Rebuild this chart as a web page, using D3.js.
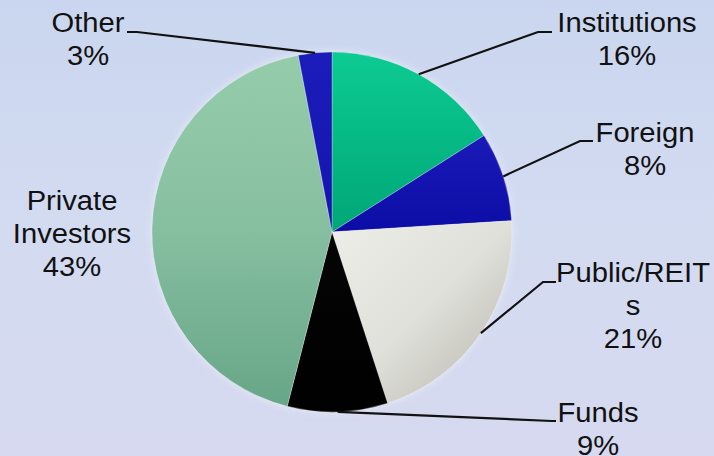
<!DOCTYPE html>
<html>
<head>
<meta charset="utf-8">
<script src="https://cdn.jsdelivr.net/npm/d3@7/dist/d3.min.js"></script>
<style>
  html, body { margin: 0; padding: 0; }
  svg { display: block; }
  text { font-family: "Liberation Sans", Arial, sans-serif; fill: #111; }
</style>
</head>
<body>
<svg id="chart" width="714" height="456"></svg>
<script>
// Ownership shares by investor type (percent)
const categories = ["Institutions", "Foreign", "Public/REITs", "Funds", "Private Investors", "Other"];
const shares = [16, 8, 21, 9, 43, 3];
// Label text lines as printed beside the pie
const labelLines = [
  ["Institutions", "16%"],
  ["Foreign", "8%"],
  ["Public/REIT", "s", "21%"],
  ["Funds", "9%"],
  ["Private", "Investors", "43%"],
  ["Other", "3%"]
];

const W = 714, H = 456;
const cx = 332, cy = 232, R = 180;

const svg = d3.select("#chart");
const defs = svg.append("defs");

// background wash
const bg = defs.append("linearGradient").attr("id", "bg")
  .attr("x1", 0).attr("y1", 0).attr("x2", 0).attr("y2", 1);
bg.append("stop").attr("offset", 0).attr("stop-color", "#cad6ef");
bg.append("stop").attr("offset", 0.5).attr("stop-color", "#d3dbf1");
bg.append("stop").attr("offset", 1).attr("stop-color", "#d6d9ef");
svg.append("rect").attr("width", W).attr("height", H).attr("fill", "url(#bg)");

// slice fills
const fills = [
  { id: "g0", dir: [0, 0, 0, 1], stops: ["#0ccb92", "#00a776"] },
  { id: "g1", dir: [0, 0, 0, 1], stops: ["#1a1ab8", "#0c0ca6"] },
  { id: "g2", dir: [0, 0, 1, 1], stops: ["#eeeee8", "#e0e0da", "#b4b4ac"] },
  { id: "g3", dir: [0, 0, 0, 1], stops: ["#050505", "#000000"] },
  { id: "g4", dir: [0, 0, 0, 1], stops: ["#95cdab", "#86bea0", "#68a688"] },
  { id: "g5", dir: [0, 0, 0, 1], stops: ["#1c1cba", "#1414b0"] }
];
fills.forEach(f => {
  const g = defs.append("linearGradient").attr("id", f.id)
    .attr("x1", f.dir[0]).attr("y1", f.dir[1]).attr("x2", f.dir[2]).attr("y2", f.dir[3]);
  f.stops.forEach((c, i) => g.append("stop")
    .attr("offset", i / (f.stops.length - 1)).attr("stop-color", c));
});

const shadow = defs.append("filter").attr("id", "soft")
  .attr("x", "-10%").attr("y", "-10%").attr("width", "120%").attr("height", "120%");
shadow.append("feGaussianBlur").attr("stdDeviation", 3);

const pie = d3.pie().sort(null).value(d => d)(shares);
const arc = d3.arc().innerRadius(0).outerRadius(R);

const g = svg.append("g").attr("transform", `translate(${cx},${cy})`);

// faint halo around the pie
g.append("circle").attr("r", R + 1.5).attr("fill", "#e6e8f6").attr("opacity", 0.8)
  .attr("filter", "url(#soft)");

g.selectAll("path.slice").data(pie).join("path")
  .attr("class", "slice")
  .attr("d", arc)
  .attr("fill", (d, i) => `url(#g${i})`)
  .attr("stroke", "rgba(255,255,255,0.35)")
  .attr("stroke-width", 0.8);

// label placement: text centre x, first baseline, elbow point of leader
const labelPos = [
  { x: 627, y: 32, elbow: [538, 32], stub: 552 },
  { x: 645, y: 142, elbow: [580, 141], stub: 593 },
  { x: 633, y: 282, elbow: [543, 282], stub: 556 },
  { x: 598, y: 422, elbow: [552, 421], stub: 556 },
  { x: 72, y: 210, elbow: null },
  { x: 88, y: 32, elbow: [137, 32], stub: 127 }
];
const lineH = 33;

pie.forEach((d, i) => {
  const p = labelPos[i];
  const mid = (d.startAngle + d.endAngle) / 2;
  const ax = cx + R * Math.sin(mid), ay = cy - R * Math.cos(mid);
  if (p.elbow) {
    svg.append("polyline")
      .attr("points", [[ax, ay], p.elbow, [p.stub, p.elbow[1]]].map(q => q.join(",")).join(" "))
      .attr("fill", "none").attr("stroke", "#111").attr("stroke-width", 2.2);
  }
  const t = svg.append("text").attr("text-anchor", "middle")
    .attr("font-size", 27)
    .attr("transform", `translate(${p.x},${p.y}) scale(1.08,1)`);
  labelLines[i].forEach((s, k) => {
    t.append("tspan").attr("x", 0).attr("y", k * lineH).text(s);
  });
});
</script>
</body>
</html>
